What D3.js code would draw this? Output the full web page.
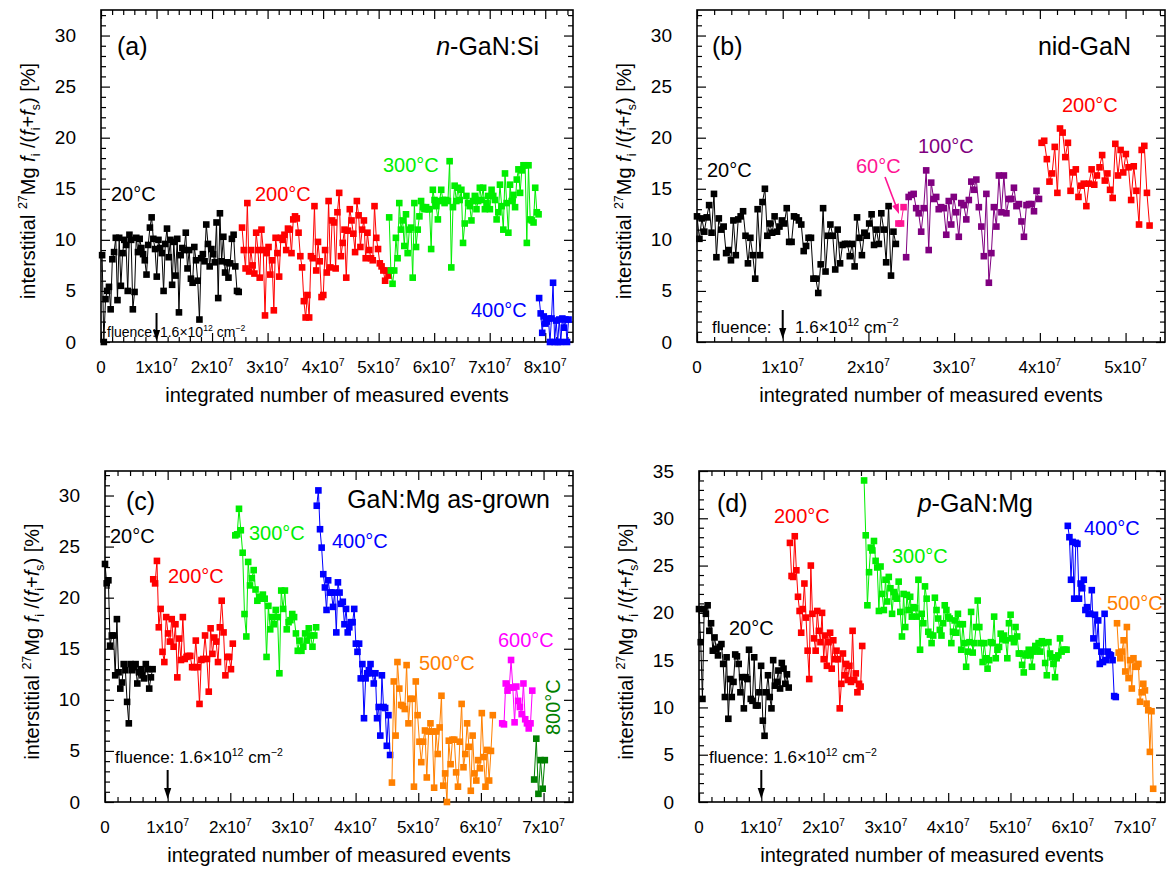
<!DOCTYPE html>
<html>
<head>
<meta charset="utf-8">
<script src="https://cdn.jsdelivr.net/npm/d3@7"></script>
<style>
  body { margin: 0; background: #fff; }
  text { font-family: "Liberation Sans", Arial, Helvetica, sans-serif; }
</style>
</head>
<body>
<svg id="fig" width="1169" height="870"></svg>
<script>
// values; each series is evenly spaced over its span (events)

// (a) n-GaN:Si
const a20 = [8.5, 0, 4.2, 5.0, 5.4, 3.2, 8.1, 8.8, 10.2, 4.1,
  10.2, 5.5, 8.7, 10.0, 9.5, 5.0, 10.5, 10.0, 3.2, 4.9,
  10.2, 8.8, 10.1, 9.2, 8.6, 8.0, 6.6, 9.5, 11.2, 12.2,
  10.1, 9.1, 6.4, 10.0, 9.2, 8.7, 5.0, 9.6, 11.1, 8.3,
  10.0, 5.6, 9.8, 6.5, 10.1, 2.9, 8.5, 9.2, 9.0, 10.7,
  7.2, 9.0, 6.2, 5.8, 9.3, 8.0, 6.0, 2.2, 8.2, 8.6,
  7.9, 11.5, 9.6, 7.4, 9.1, 8.6, 7.8, 11.7, 4.3, 12.6,
  7.9, 10.3, 6.8, 7.8, 6.3, 7.7, 10.1, 10.5, 7.4, 5.0, 4.9];
const a20Span = [0.02e7, 2.48e7];
const a200 = [11.2, 9.0, 7.2, 13.6, 6.9, 9.0, 7.5, 6.7, 10.7, 9.0,
  6.3, 11.0, 9.0, 2.6, 8.7, 9.3, 6.6, 8.0, 3.1, 10.2,
  8.7, 6.4, 10.2, 10.0, 10.5, 9.0, 11.1, 11.0, 8.7, 12.0,
  12.3, 12.1, 10.7, 8.4, 7.3, 4.0, 2.4, 4.6, 2.4, 8.4,
  8.2, 13.3, 7.0, 9.8, 7.9, 4.4, 4.6, 9.0, 6.8, 13.8,
  7.3, 11.9, 11.7, 7.2, 12.7, 14.6, 8.4, 9.7, 11.0, 6.3,
  10.9, 13.0, 11.9, 10.6, 8.8, 13.8, 12.4, 9.3, 11.0, 11.9,
  8.2, 10.7, 9.0, 8.2, 8.0, 13.3, 10.2, 9.1, 7.7, 7.4,
  7.0, 6.0, 7.0, 6.5];
const a200Span = [2.54e7, 5.18e7];
const a300 = [12.2, 7.0, 5.7, 7.0, 10.2, 8.2, 13.6, 11.0, 11.9, 9.4,
  12.5, 8.7, 11.0, 11.2, 6.3, 13.6, 9.3, 11.0, 12.3, 13.8,
  13.2, 13.0, 13.2, 13.0, 13.0, 9.1, 14.9, 13.9, 13.3, 12.0,
  13.8, 14.9, 13.9, 13.6, 13.9, 13.8, 17.7, 7.3, 13.2, 15.3,
  13.8, 15.1, 13.9, 14.9, 9.7, 11.6, 14.3, 13.6, 13.3, 11.9,
  13.8, 14.3, 13.0, 13.8, 15.1, 13.9, 15.1, 13.0, 13.6, 14.3,
  13.0, 14.9, 14.3, 13.9, 12.0, 12.7, 15.4, 13.3, 11.0, 16.5,
  13.6, 10.7, 15.4, 13.8, 14.4, 13.2, 15.9, 16.9, 14.6, 16.8,
  17.3, 17.3, 9.7, 17.3, 12.0, 11.9, 11.7, 15.1, 12.7, 12.5];
const a300Span = [5.19e7, 7.88e7];
const a400 = [4.3, 2.8, 0.9, 2.5, 1.8, 2.0, 2.3, 0, 2.3, 5.8, 0, 2.1, 0, 2.2, 0, 2.3, 1.4, 2.2, 0, 2.2];
const a400Span = [7.89e7, 8.42e7];

// (b) nid-GaN
const b20 = [12.3, 10.1, 12.1, 10.8, 12.2, 13.4, 10.7, 14.5, 8.3, 12.1,
  11.0, 11.3, 8.7, 9.0, 8.0, 11.9, 8.5, 12.0, 12.3, 12.8,
  10.4, 7.7, 10.2, 8.5, 6.2, 13.0, 8.5, 13.7, 15.0, 10.4,
  11.6, 10.7, 12.3, 10.8, 11.3, 11.9, 11.6, 13.1, 9.8, 9.8,
  12.3, 12.2, 11.9, 11.5, 8.9, 9.4, 10.2, 10.2, 6.2, 6.2,
  4.8, 7.6, 13.1, 6.9, 10.4, 11.5, 10.4, 7.1, 11.0, 7.7,
  9.5, 9.6, 9.6, 8.4, 9.6, 7.4, 12.2, 10.2, 8.5, 10.7,
  10.4, 11.6, 12.5, 9.5, 11.0, 9.6, 12.6, 11.0, 7.8, 13.3,
  6.5, 10.8, 9.6];
const b20Span = [0.0, 2.32e7];
const b60 = [11.6, 11.6, 13.2];
const b60Span = [2.35e7, 2.41e7];
const b100 = [8.3, 14.2, 14.4, 14.5, 13.1, 12.6, 10.8, 13.1,
  16.8, 9.0, 15.6, 14.0, 14.2, 13.0, 13.2, 13.1, 10.5, 13.8,
  11.5, 14.2, 12.7, 10.3, 13.6, 13.4, 12.0, 13.9, 15.7, 14.9,
  15.9, 13.2, 11.3, 8.4, 14.5, 5.8, 8.7, 13.2, 11.3, 16.3,
  12.7, 16.3, 12.6, 14.0, 14.0, 15.1, 13.3, 13.5, 11.8, 10.3,
  13.4, 13.5, 13.5, 12.8, 14.8, 14.0];
const b100Span = [2.44e7, 3.99e7];
const b200 = [19.5, 19.7, 17.9, 15.7, 16.5, 19.1, 14.6, 20.9, 20.5, 18.1,
  19.5, 14.8, 16.6, 16.9, 14.2, 15.3, 15.5, 13.3, 15.5, 16.9,
  15.4, 16.3, 17.1, 18.3, 15.8, 16.5, 14.9, 14.1, 19.4, 16.3,
  18.8, 16.6, 18.4, 17.1, 13.9, 17.2, 14.8, 11.5, 18.8, 19.2,
  14.6, 11.4];
const b200Span = [4.02e7, 5.28e7];

// (c) GaN:Mg as-grown
const c20 = [23.3, 21.4, 21.7, 15.3, 16.3, 16.3, 12.4, 17.9, 12.7, 11.1,
  11.7, 13.5, 12.9, 9.8, 7.7, 13.5, 12.9, 13.2, 13.5, 11.6,
  12.7, 13.0, 12.4, 12.1, 13.5, 13.0, 11.1, 12.2, 13.0];
const c20Span = [0.0, 0.76e7];
const c200 = [21.8, 21.4, 23.6, 17.1, 18.9, 14.7, 13.7, 18.1, 16.5, 15.7,
  17.9, 15.2, 17.4, 12.2, 16.0, 13.9, 18.1, 14.0, 14.2, 14.3,
  14.3, 13.2, 13.2, 15.8, 13.2, 9.6, 13.9, 14.0, 16.3, 14.0,
  10.8, 17.0, 14.5, 16.1, 15.7, 13.7, 17.1, 19.7, 16.6, 12.4,
  14.2, 14.2, 13.0, 15.5];
const c200Span = [0.77e7, 2.04e7];
const c300 = [26.1, 26.2, 28.7, 26.6, 24.4, 18.4, 16.2, 23.5, 21.2, 21.9,
  22.7, 20.8, 19.7, 20.1, 19.9, 20.3, 19.9, 14.2, 19.2, 16.9,
  18.1, 17.4, 18.8, 18.1, 12.6, 20.7, 18.9, 20.7, 16.9, 17.6,
  17.8, 18.4, 18.1, 16.5, 14.8, 15.8, 14.8, 15.2, 16.5, 15.8,
  17.0, 16.3, 15.2, 16.3, 17.1];
const c300Span = [2.08e7, 3.37e7];
const c400 = [29.0, 30.5, 26.7, 24.9, 22.3, 21.0, 18.8, 21.7, 20.5, 20.5,
  19.1, 20.5, 16.6, 21.5, 20.5, 19.4, 19.6, 17.4, 18.9, 16.6,
  17.1, 17.6, 17.6, 18.9, 15.5, 14.7, 15.5, 12.1, 13.5, 8.2,
  12.1, 12.6, 12.9, 13.5, 12.6, 11.6, 12.6, 8.2, 9.3, 6.5,
  12.4, 9.3, 9.2, 5.5, 8.5, 4.6];
const c400Span = [3.38e7, 4.55e7];
const c500 = [1.9, 11.8, 6.5, 13.7, 11.1, 9.5, 9.4, 9.1, 13.4, 7.7,
  10.1, 10.1, 1.5, 11.8, 8.5, 5.9, 3.9, 5.9, 7.0, 2.4,
  6.9, 7.7, 6.9, 1.4, 6.9, 4.7, 7.3, 10.4, 1.6, 2.8,
  0, 6.0, 3.7, 6.1, 6.1, 2.9, 1.5, 5.9, 9.6, 3.4,
  4.7, 7.7, 5.4, 1.1, 6.5, 2.8, 2.1, 4.1, 3.3, 8.7,
  4.4, 1.5, 5.1, 2.1, 5.0, 8.5];
const c500Span = [4.58e7, 6.19e7];
const c600 = [7.7, 7.6, 11.6, 10.9, 11.2, 13.9, 11.2, 7.8, 11.3, 9.9,
  9.3, 8.6, 11.6, 8.1, 7.7, 7.2, 7.7, 10.9];
const c600Span = [6.34e7, 6.82e7];
const c800 = [2.2, 6.2, 0.8, 4.1, 1.3, 4.1];
const c800Span = [6.85e7, 7.02e7];

// (d) p-GaN:Mg
const d20 = [20.4, 16.9, 10.9, 20.4, 19.9, 20.8, 18.1, 18.9, 16.0, 17.4,
  16.2, 15.5, 16.4, 16.7, 14.6, 11.1, 15.3, 8.8, 13.0, 11.1,
  12.7, 15.6, 15.4, 14.6, 11.6, 13.2, 9.9, 13.2, 13.0, 16.1,
  10.9, 10.7, 15.3, 10.2, 10.2, 11.6, 14.4, 8.6, 7.0, 11.6,
  13.4, 11.1, 9.9, 15.0, 12.3, 12.7, 13.9, 12.0, 14.7, 14.1,
  12.5, 13.5, 12.1];
const d20Span = [0.0, 1.44e7];
const d200 = [27.4, 23.9, 23.8, 28.1, 24.5, 21.7, 20.2, 17.9, 20.4, 23.1,
  19.5, 16.0, 13.0, 25.0, 19.9, 17.3, 16.0, 20.2, 18.1, 16.9,
  20.0, 15.1, 17.6, 14.4, 16.9, 17.9, 14.1, 17.1, 15.1, 16.0,
  15.1, 9.9, 12.5, 15.7, 13.4, 14.6, 12.9, 14.4, 12.7, 18.1,
  12.9, 13.6, 11.6, 12.5, 12.2, 16.5];
const d200Span = [1.46e7, 2.62e7];
const d300 = [34.0, 28.2, 20.8, 24.3, 26.9, 26.6, 27.6, 25.5, 24.8, 20.2,
  24.9, 22.0, 20.3, 23.5, 21.2, 23.8, 22.6, 19.9, 22.2, 21.7,
  21.5, 23.3, 20.1, 17.5, 22.0, 18.5, 21.9, 20.3, 21.7, 19.6,
  20.6, 20.5, 19.6, 23.5, 16.1, 19.9, 18.9, 22.8, 21.5, 18.0,
  17.7, 16.8, 17.6, 21.6, 20.3, 19.4, 18.2, 17.6, 18.9, 20.8,
  20.3, 19.6, 19.4, 16.8, 18.0, 19.2, 17.9, 19.9, 18.8, 16.1,
  18.8, 16.8, 14.3, 15.9, 16.9, 20.1, 15.8, 16.8, 18.5, 21.3,
  18.5, 16.8, 14.8, 16.8, 15.2, 14.1, 15.0, 16.9, 16.8, 19.6,
  15.2, 16.1, 16.4, 17.8, 17.2, 17.6, 17.1, 15.2, 18.9, 19.8,
  17.3, 16.9, 18.5, 17.5, 15.7, 15.7, 14.5, 13.7, 15.5, 15.7,
  16.1, 15.5, 14.3, 15.9, 16.5, 16.1, 16.8, 15.9, 17.0, 16.8,
  14.7, 13.4, 16.9, 15.7, 15.3, 14.6, 13.2, 15.2, 15.5, 17.3,
  15.9, 16.1, 16.1, 16.1];
const d300Span = [2.65e7, 5.9e7];
const d400 = [29.2, 28.0, 23.5, 27.5, 21.5, 27.4, 27.3, 21.5, 23.1, 22.6,
  23.5, 20.3, 20.6, 19.9, 19.9, 22.4, 17.3, 19.8, 16.5, 19.2,
  14.6, 15.9, 14.8, 19.9, 15.0, 15.9, 15.6, 15.5, 15.0, 11.2, 11.1];
const d400Span = [5.92e7, 6.69e7];
const d500 = [18.9, 15.8, 15.2, 15.9, 17.1, 13.8, 18.5, 13.1, 15.0, 12.0,
  15.2, 14.3, 14.3, 14.6, 10.6, 11.6, 12.5, 11.8, 10.4, 9.7, 5.3, 9.6, 1.4];
const d500Span = [6.71e7, 7.29e7];

const tempColor = {
  "20": "#000000", "60": "#ff1493", "100": "#800080", "200": "#ff0000",
  "300": "#00ee00", "400": "#0000ff", "500": "#ff8000", "600": "#ff00ff", "800": "#008000"
};

const fluence = [{t: "fluence: 1.6×10"}, {t: "12", sup: 1}, {t: " cm"}, {t: "−2", sup: 1}];

const panels = [
  {
    box: [101, 10, 573, 342], xMax: 8.5e7, yMax: 32.5,
    series: [["20", a20, a20Span], ["200", a200, a200Span], ["300", a300, a300Span], ["400", a400, a400Span]],
    tag: [117, 55, "(a)"], name: [539, 55, [{t: "n", it: 1}, {t: "-GaN:Si"}]],
    labels: [["20°C", "20", 111, 201], ["200°C", "200", 255, 201], ["300°C", "300", 383, 172], ["400°C", "400", 471, 317]],
    flu: {fs: 14, parts: [[107, 337, fluence]], arrow: [313, 341]}
  },
  {
    box: [697, 10, 1165, 342], xMax: 5.46e7, yMax: 32.5,
    series: [["20", b20, b20Span], ["60", b60, b60Span], ["100", b100, b100Span], ["200", b200, b200Span]],
    tag: [712, 55, "(b)"], name: [1131, 55, [{t: "nid-GaN"}]],
    labels: [["20°C", "20", 707, 177], ["60°C", "60", 856, 173], ["100°C", "100", 918, 153], ["200°C", "200", 1062, 112]],
    flu: {fs: 17, parts: [[712, 333, [{t: "fluence:"}]], [795, 333, fluence.slice(1).map((p, i) => i === 0 ? p : p)]], arrow: [310, 339]},
    pointer: ["60", 885, 177, 899, 214]
  },
  {
    box: [105, 471, 573, 802], xMax: 7.47e7, yMax: 32.4,
    series: [["20", c20, c20Span], ["200", c200, c200Span], ["300", c300, c300Span], ["400", c400, c400Span],
             ["500", c500, c500Span], ["600", c600, c600Span], ["800", c800, c800Span]],
    tag: [126, 510, "(c)"], name: [550, 508, [{t: "GaN:Mg as-grown"}]],
    labels: [["20°C", "20", 110, 543], ["200°C", "200", 168, 583], ["300°C", "300", 249, 540], ["400°C", "400", 332, 548],
             ["500°C", "500", 419, 670], ["600°C", "600", 498, 647], ["800°C", "800", 560, 735, true]],
    flu: {fs: 17, parts: [[115, 763, fluence]], arrow: [770, 799]}
  },
  {
    box: [699, 471, 1165, 802], xMax: 7.48e7, yMax: 35,
    series: [["20", d20, d20Span], ["200", d200, d200Span], ["300", d300, d300Span], ["400", d400, d400Span], ["500", d500, d500Span]],
    tag: [717, 512, "(d)"], name: [1033, 512, [{t: "p", it: 1}, {t: "-GaN:Mg"}]],
    labels: [["20°C", "20", 729, 635], ["200°C", "200", 774, 523], ["300°C", "300", 892, 563], ["400°C", "400", 1084, 535], ["500°C", "500", 1107, 610]],
    flu: {fs: 17, parts: [[709, 763, fluence]], arrow: [770, 799]}
  }
];
// (b) puts the arrow between "fluence:" and the number
panels[1].flu.parts[1][2] = [{t: "1.6×10"}, {t: "12", sup: 1}, {t: " cm"}, {t: "−2", sup: 1}];

const yTitle = [{t: "interstitial "}, {t: "27", sup: 1}, {t: "Mg "}, {t: "f", it: 1}, {t: "i", sub: 1},
  {t: " /("}, {t: "f", it: 1}, {t: "i", sub: 1}, {t: "+"}, {t: "f", it: 1}, {t: "s", sub: 1}, {t: ") [%]"}];

const svg = d3.select("#fig");
svg.append("rect").attr("width", 1169).attr("height", 870).attr("fill", "#fff");

// text made of pieces with super/subscripts and italics
function rich(sel, parts, fs) {
  let shift = 0;
  parts.forEach(p => {
    const ts = sel.append("tspan").text(p.t);
    let want = 0;
    if (p.sup) { want = -fs * 0.42; ts.attr("font-size", fs * 0.62); }
    if (p.sub) { want = fs * 0.25; ts.attr("font-size", fs * 0.62); }
    if (p.it) ts.attr("font-style", "italic");
    if (want !== shift) { ts.attr("dy", want - shift); shift = want; }
  });
}

function arrowHead(g, tx, ty, ang, color, len, hw) {
  const c = Math.cos(ang), s = Math.sin(ang);
  const bx = tx - c * len, by = ty - s * len;
  g.append("path")
    .attr("d", `M${tx},${ty}L${bx - s * hw},${by + c * hw}L${bx + s * hw},${by - c * hw}Z`)
    .attr("fill", color);
}

function drawPanel(p) {
  const [x0, y0, x1, y1] = p.box;
  const x = d3.scaleLinear().domain([0, p.xMax]).range([x0, x1]);
  const y = d3.scaleLinear().domain([0, p.yMax]).range([y1, y0]);
  const g = svg.append("g");

  const majX = d3.range(0, p.xMax + 1, 1e7);
  const minX = d3.range(0, p.xMax, 2e6).filter(v => v % 1e7 !== 0);
  const majY = d3.range(0, p.yMax + 0.01, 5);
  const minY = d3.range(0, p.yMax, 1).filter(v => v % 5 !== 0);

  function ticks(axisFn, scale, vals, size, tr) {
    g.append("g").attr("transform", tr)
      .call(axisFn(scale).tickValues(vals).tickSize(-size).tickFormat(""))
      .call(s => s.select(".domain").remove())
      .call(s => s.selectAll("line").attr("stroke-width", 1.2));
  }
  ticks(d3.axisBottom, x, majX, 9, `translate(0,${y1})`);
  ticks(d3.axisBottom, x, minX, 5, `translate(0,${y1})`);
  ticks(d3.axisTop, x, majX, 9, `translate(0,${y0})`);
  ticks(d3.axisTop, x, minX, 5, `translate(0,${y0})`);
  ticks(d3.axisLeft, y, majY, 9, `translate(${x0},0)`);
  ticks(d3.axisLeft, y, minY, 5, `translate(${x0},0)`);
  ticks(d3.axisRight, y, majY, 9, `translate(${x1},0)`);
  ticks(d3.axisRight, y, minY, 5, `translate(${x1},0)`);

  g.append("rect").attr("x", x0).attr("y", y0).attr("width", x1 - x0).attr("height", y1 - y0)
    .attr("fill", "none").attr("stroke", "#000").attr("stroke-width", 1.6);

  majX.forEach(v => {
    const t = g.append("text").attr("x", x(v)).attr("y", y1 + 31).attr("font-size", 17)
      .attr("text-anchor", "middle");
    if (v === 0) t.text("0");
    else rich(t, [{t: (v / 1e7) + "x10"}, {t: "7", sup: 1}], 17);
  });
  majY.forEach(v => {
    g.append("text").attr("x", x0 - 25).attr("y", y(v) + 6.5).attr("font-size", 19)
      .attr("text-anchor", "end").text(v);
  });

  rich(g.append("text").attr("x", (x0 + x1) / 2).attr("y", y1 + 60).attr("font-size", 20)
    .attr("text-anchor", "middle"), [{t: "integrated number of measured events"}], 20);
  rich(g.append("text").attr("font-size", 20).attr("text-anchor", "middle")
    .attr("transform", `translate(${x0 - 66},${(y0 + y1) / 2 + 5}) rotate(-90)`), yTitle, 20);

  // series: thin line plus square markers
  const line = d3.line().x(d => x(d.x)).y(d => y(d.y));
  p.series.forEach(([key, vals, span]) => {
    const pts = vals.map((v, i) => ({x: span[0] + i * (span[1] - span[0]) / Math.max(vals.length - 1, 1), y: v}));
    const col = tempColor[key];
    g.append("path").datum(pts).attr("d", line).attr("fill", "none").attr("stroke", col).attr("stroke-width", 1);
    g.selectAll(null).data(pts).enter().append("rect")
      .attr("x", d => x(d.x) - 3.3).attr("y", d => y(d.y) - 3.3)
      .attr("width", 6.6).attr("height", 6.6).attr("fill", col);
  });

  p.labels.forEach(([txt, key, lx, ly, rot]) => {
    const t = g.append("text").attr("font-size", 20).attr("fill", tempColor[key]).text(txt);
    if (rot) t.attr("transform", `translate(${lx},${ly}) rotate(-90)`);
    else t.attr("x", lx).attr("y", ly);
  });

  g.append("text").attr("x", p.tag[0]).attr("y", p.tag[1]).attr("font-size", 25).text(p.tag[2]);
  rich(g.append("text").attr("x", p.name[0]).attr("y", p.name[1]).attr("font-size", 25)
    .attr("text-anchor", "end"), p.name[2], 25);

  p.flu.parts.forEach(([fx, fy, parts]) => {
    rich(g.append("text").attr("x", fx).attr("y", fy).attr("font-size", p.flu.fs), parts, p.flu.fs);
  });
  const ax = x(1e7);
  g.append("line").attr("x1", ax).attr("x2", ax).attr("y1", p.flu.arrow[0]).attr("y2", p.flu.arrow[1] - 8)
    .attr("stroke", "#000").attr("stroke-width", 2);
  arrowHead(g, ax, p.flu.arrow[1], Math.PI / 2, "#000", 11, 3.6);

  if (p.pointer) {
    const [key, px0, py0, px1, py1] = p.pointer;
    const ang = Math.atan2(py1 - py0, px1 - px0);
    g.append("line").attr("x1", px0).attr("y1", py0)
      .attr("x2", px1 - Math.cos(ang) * 8).attr("y2", py1 - Math.sin(ang) * 8)
      .attr("stroke", tempColor[key]).attr("stroke-width", 1.6);
    arrowHead(g, px1, py1, ang, tempColor[key], 10, 3.6);
  }
}

panels.forEach(drawPanel);
</script>
</body>
</html>
